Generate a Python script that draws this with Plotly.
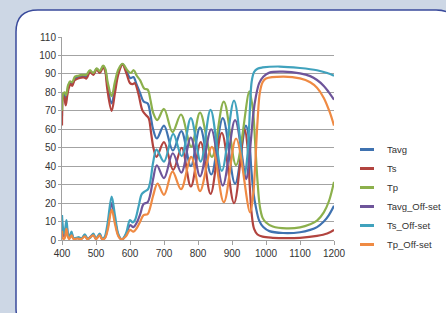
import plotly.graph_objects as go

# ---------------- data ----------------
wl_ts = [400, 404, 407, 411, 416, 421, 425, 430, 437, 447, 457, 466, 472, 482, 492, 502, 511, 521, 527, 533, 546, 556, 566, 578, 590, 600, 608, 614, 625, 637, 648, 655, 662, 670, 678, 700, 727, 752, 779, 808, 837, 870, 906, 937, 946, 952, 958, 965, 975, 990, 1020, 1060, 1100, 1150, 1180, 1200]
ts = [62, 78, 77, 73, 79, 83, 84.5, 83.5, 86.5, 87.5, 88, 88, 87.5, 91, 89.5, 92.5, 90.5, 93.5, 91.5, 82, 70, 80, 90, 95, 90, 85, 84.5, 85, 79, 70, 67.5, 66, 58, 49, 45, 53, 38, 50, 29, 53, 25, 58, 20, 60, 50, 30, 14, 6, 3, 1.8, 1.2, 1, 1.2, 2.2, 3.5, 5.5]

wl_tp = [400, 404, 408, 412, 418, 424, 430, 438, 447, 457, 466, 472, 482, 492, 502, 511, 521, 527, 535, 546, 556, 566, 578, 592, 602, 611, 620, 630, 642, 652, 660, 668, 680, 700, 725, 750, 780, 806, 841, 876, 912, 951, 957, 962, 968, 975, 982, 990, 1000, 1020, 1060, 1100, 1130, 1150, 1170, 1185, 1200]
tp = [70, 79.5, 80, 78.5, 84, 86, 85.5, 88.5, 89, 89.5, 89.5, 89.5, 92, 90.5, 93, 91.5, 94.5, 93, 85, 78, 86, 92.5, 95.5, 92, 90.5, 92, 89, 86.5, 82, 81.5, 76, 69, 65, 71, 58.5, 68, 50.5, 69, 45, 75, 40.6, 80.5, 76, 70, 53, 32, 18, 12, 9.5, 7.3, 6.3, 6.8, 8.5, 10.5, 15, 21, 31.5]

wl_tavg = [400, 404, 408, 412, 417, 423, 430, 438, 447, 457, 466, 472, 482, 492, 502, 511, 521, 527, 534, 546, 556, 566, 578, 591, 601, 610, 620, 630, 640, 652, 660, 668, 679, 700, 726, 751, 779, 806, 839, 873, 909, 941, 950, 957, 963, 970, 980, 992, 1010, 1050, 1100, 1130, 1150, 1170, 1185, 1200]
tavg = [67, 79, 78.5, 76, 81.5, 85, 84.5, 87.5, 88.3, 88.8, 88.8, 88.5, 91.5, 90, 92.8, 91, 94, 92.3, 83.5, 74, 83, 91.3, 95.3, 91, 87.7, 88.3, 84, 79.5, 75, 74, 68, 60, 55, 62, 48.5, 59, 40, 61, 35.5, 66, 30.5, 62, 55, 38, 26, 18, 10.5, 7, 4.8, 3.8, 4.2, 5.5, 7, 10, 13.5, 18.5]

wl_tavg_off = [400, 404, 408, 413, 417, 421, 428, 434, 445, 457, 467, 475, 492, 500, 511, 518, 526, 535, 546, 556, 566, 576, 588, 600, 610, 620, 630, 640, 652, 660, 668, 679, 700, 726, 751, 779, 806, 839, 873, 909, 942, 950, 957, 963, 970, 980, 992, 1010, 1050, 1100, 1130, 1150, 1170, 1185, 1200]
tavg_off = [9, 2.5, 2, 8.5, 3, 1, 3.5, 0.8, 1, 0.6, 2.5, 0.6, 3, 0.6, 3, 0.6, 1.2, 7.5, 20, 10.5, 2.5, 0.3, 2.8, 8, 7, 9.5, 14, 19.5, 20.5, 25, 33, 40.5, 33.5, 47, 36.5, 55.5, 34.5, 60, 29.5, 65, 33, 43, 57, 69, 77.5, 85, 88.5, 90.7, 91.2, 90.3, 88.8, 86.7, 83.5, 80, 76]

wl_ts_off = [400, 404, 407, 413, 417, 421, 428, 434, 442, 450, 457, 467, 475, 483, 492, 500, 511, 518, 525, 534, 546, 556, 566, 576, 588, 600, 608, 615, 625, 635, 645, 653, 660, 668, 678, 700, 727, 752, 779, 808, 837, 870, 906, 937, 945, 950, 953, 958, 965, 975, 990, 1040, 1100, 1150, 1180, 1200]
ts_off = [13.5, 5, 3.5, 10.8, 4, 1.5, 4.5, 1, 1.2, 1.5, 0.8, 3, 0.8, 1.2, 3.5, 0.8, 3.5, 0.8, 1.5, 9, 23.5, 13, 3, 0.3, 3.5, 10.8, 9.5, 11, 18, 25, 26.5, 27.5, 32, 42, 49, 42.5, 57.5, 45.5, 66, 42.5, 70.5, 37.5, 75.5, 35.5, 45, 60, 72, 86, 91, 92.8, 93.5, 94, 93.2, 92, 90.5, 89]

wl_tp_off = [400, 404, 408, 413, 417, 421, 428, 434, 445, 457, 467, 475, 492, 500, 511, 518, 526, 535, 546, 556, 566, 576, 588, 600, 610, 620, 630, 640, 652, 660, 668, 681, 700, 725, 750, 780, 806, 841, 876, 912, 953, 962, 968, 975, 982, 990, 1000, 1050, 1100, 1130, 1150, 1170, 1188, 1200]
tp_off = [5, 0.5, 1, 6, 2, 0.5, 2.5, 0.5, 0.8, 0.5, 2, 0.5, 2.5, 0.5, 2.5, 0.5, 1, 6, 16.5, 8.5, 2, 0.3, 2, 5.5, 4.5, 6.5, 10, 13.5, 14, 18, 24, 30.5, 24.5, 37, 27.5, 45, 26.5, 50.5, 20.5, 55, 15, 24, 40, 64, 80, 85.5, 87.5, 88.5, 87.6, 85.5, 82.5, 77, 69, 62]

series_names = ["Tavg", "Ts", "Tp", "Tavg_Off-set", "Ts_Off-set", "Tp_Off-set"]
series_colors = ["#3f72b0", "#b2443f", "#8cb04c", "#6e559a", "#40a2bd", "#ef8a43"]
y_ticks = list(range(0, 111, 10))
x_ticks = list(range(400, 1201, 100))

series_x = [wl_tavg, wl_ts, wl_tp, wl_tavg_off, wl_ts_off, wl_tp_off]
series_y = [tavg, ts, tp, tavg_off, ts_off, tp_off]

# ---------------- figure ----------------
W, H = 446, 313
fig = go.Figure()

for name, col, xs, ys in zip(series_names, series_colors, series_x, series_y):
    fig.add_trace(go.Scatter(x=xs, y=ys, mode="lines", name=name, showlegend=False,
                             line=dict(color=col, width=2.2, shape="spline", smoothing=1.0),
                             hoverinfo="skip"))

# legend-only entries with short line keys
for name, col in zip(series_names, series_colors):
    fig.add_trace(go.Scatter(x=[None], y=[None], mode="markers", name=name,
                             marker=dict(symbol="line-ew", size=10, color=col,
                                         line=dict(color=col, width=3))))

def px_x(p):
    return p / W

def px_y(p):
    return 1 - p / H

# rounded white panel
x0, x1, y0, y1, r = 16, 458, 10, 330, 22
path = (f"M {px_x(x0)},{px_y(y0 + r)} "
        f"Q {px_x(x0)},{px_y(y0)} {px_x(x0 + r)},{px_y(y0)} "
        f"L {px_x(x1 - r)},{px_y(y0)} "
        f"Q {px_x(x1)},{px_y(y0)} {px_x(x1)},{px_y(y0 + r)} "
        f"L {px_x(x1)},{px_y(y1 - r)} "
        f"Q {px_x(x1)},{px_y(y1)} {px_x(x1 - r)},{px_y(y1)} "
        f"L {px_x(x0 + r)},{px_y(y1)} "
        f"Q {px_x(x0)},{px_y(y1)} {px_x(x0)},{px_y(y1 - r)} Z")

fig.add_shape(type="path", path=path, xref="paper", yref="paper",
              fillcolor="white", line=dict(color="#3a4b9c", width=1.5), layer="below")

font = dict(family="Liberation Sans, Arial, sans-serif", size=10, color="#333333")

fig.update_layout(
    template="none",
    width=W, height=H,
    margin=dict(l=0, r=0, t=0, b=0, pad=0, autoexpand=False),
    paper_bgcolor="#cdd7e5",
    plot_bgcolor="rgba(0,0,0,0)",
    font=font,
    showlegend=True,
    legend=dict(x=347 / W, y=1 - 197 / H, xanchor="left", yanchor="middle",
                bgcolor="rgba(0,0,0,0)", font=dict(size=9.5, color="#333333"),
                tracegroupgap=0),
    xaxis=dict(domain=[62 / W, 334 / W], range=[400, 1200], tickvals=x_ticks,
               automargin=False,
               showgrid=False, zeroline=False, showline=True, linecolor="#a0a0a0",
               linewidth=1, ticks="outside", ticklen=4, tickcolor="#a0a0a0",
               tickfont=font),
    yaxis=dict(domain=[1 - 240 / H, 1 - 37 / H], range=[0, 110], tickvals=y_ticks,
               automargin=False,
               showgrid=True, gridcolor="#a3a3a3", gridwidth=1.2, zeroline=False,
               showline=True, linecolor="#a0a0a0", linewidth=1, ticks="outside",
               ticklen=3, tickcolor="#a0a0a0", tickfont=font),
)

fig.write_html("out.html", config={"displayModeBar": False},
               post_script="document.body.style.margin='0';document.body.style.overflow='hidden';")
